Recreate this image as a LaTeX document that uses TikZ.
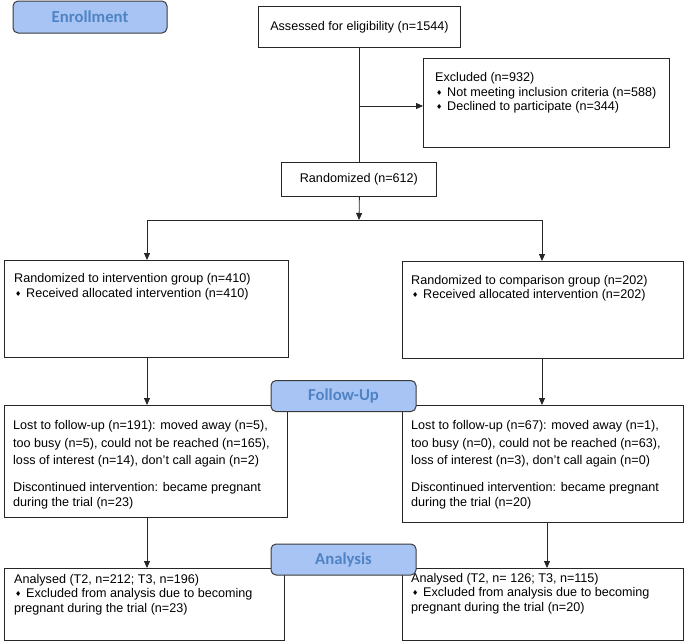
\documentclass[tikz,border=0pt]{standalone}
\usepackage{fontspec}
\setmainfont{Liberation Sans}
\newfontfamily\hdfont{Carlito}
\newfontfamily\symf{DejaVu Sans}
\usetikzlibrary{arrows.meta}
\definecolor{hdfill}{HTML}{A7C4F4}
\definecolor{hdtext}{HTML}{5083C4}
\definecolor{hdborder}{HTML}{3A3A3A}
\newcommand\bul{\makebox[12pt][l]{\hspace{1pt}\raisebox{0.6pt}{\symf\fontsize{7}{7}\selectfont ♦}}}
\newcommand\tb[1]{\parbox[t]{300pt}{#1}}
\begin{document}
\begin{tikzpicture}[x=1pt,y=-1pt,
  box/.style={draw=black!85, line width=0.8pt, rectangle, inner sep=0pt, anchor=north west,
    font=\fontsize{12.6}{14.5}\selectfont},
  txt/.style={inner sep=0pt, anchor=base west, font=\fontsize{12.6}{14.5}\selectfont},
  hd/.style={draw=hdborder, fill=hdfill, rounded corners=5pt, line width=1pt, inner sep=0pt,
    minimum width=145pt, minimum height=31pt,
    font=\hdfont\bfseries\fontsize{16.7}{18}\selectfont, text=hdtext},
  arr/.style={-{Triangle[length=7pt,width=6pt]}, line width=0.8pt, draw=black!85},
  ln/.style={line width=0.8pt, draw=black!85}]
\useasboundingbox (0,0) rectangle (685,643);

% boxes
\node[box, minimum width=202pt, minimum height=41pt] (assess) at (258,6) {Assessed for eligibility (n=1544)};
\node[box, minimum width=246pt, minimum height=89pt] (excl) at (423,58) {};
\node[txt] (exclt) at (435,81.5) {\tb{Excluded (n=932)\\
\bul Not meeting inclusion criteria (n=588)\\
\bul Declined to participate (n=344)}};
\node[box, minimum width=155pt, minimum height=34pt] (rand) at (281,162) {Randomized (n=612)};

\node[box, minimum width=284pt, minimum height=97pt] (lrand) at (4,260) {};
\node[txt] (lrandt) at (14,282.5) {\tb{Randomized to intervention group (n=410)\\
\bul Received allocated intervention (n=410)}};
\node[box, minimum width=281pt, minimum height=97pt] (rrand) at (402,261) {};
\node[txt] (rrandt) at (411,284) {\tb{Randomized to comparison group (n=202)\\
\bul Received allocated intervention (n=202)}};

\node[box, minimum width=283pt, minimum height=112pt] (lfu) at (4,405) {};
\node[txt] (lfut) at (13,429.5) {\tb{Lost to follow-up (n=191): moved away (n=5),\\[3pt]
too busy (n=5), could not be reached (n=165),\\[3pt]
loss of interest (n=14), don't call again (n=2)\\[12.5pt]
Discontinued intervention: became pregnant\\
during the trial (n=23)}};
\node[box, minimum width=281pt, minimum height=117pt] (rfu) at (402,405) {};
\node[txt] (rfut) at (411,429.5) {\tb{Lost to follow-up (n=67): moved away (n=1),\\[3pt]
too busy (n=0), could not be reached (n=63),\\[3pt]
loss of interest (n=3), don't call again (n=0)\\[12.5pt]
Discontinued intervention: became pregnant\\
during the trial (n=20)}};

\node[box, minimum width=280pt, minimum height=72pt] (lan) at (4,568) {};
\node[txt] (lant) at (14,583) {\tb{Analysed (T2, n=212; T3, n=196)\\
\bul Excluded from analysis due to becoming\\
pregnant during the trial (n=23)}};
\node[box, minimum width=281pt, minimum height=72pt] (ran) at (402,568) {};
\node[txt] (rant) at (411,582) {\tb{Analysed (T2, n= 126; T3, n=115)\\
\bul Excluded from analysis due to becoming\\
pregnant during the trial (n=20)}};

% connectors
\coordinate (j1) at (359,106);
\coordinate (split) at (359,220);
\coordinate (sl) at (147,220);
\coordinate (sr) at (542,220);
\coordinate (fr) at (547,522);
\draw[ln] (assess.south) -- (assess.south |- rand.north);
\draw[arr] (j1) -- (j1 -| excl.west);
\draw[arr] (assess.south |- rand.south) -- (split);
\draw[ln] (sl) -- (sr);
\draw[arr] (sl) -- (sl |- lrand.north);
\draw[arr] (sr) -- (sr |- rrand.north);
\draw[arr] (sl |- lrand.south) -- (sl |- lfu.north);
\draw[arr] (sr |- rrand.south) -- (sr |- rfu.north);
\draw[arr] (sl |- lfu.south) -- (sl |- lan.north);
\draw[arr] (fr) -- (fr |- ran.north);

% headers
\node[hd, minimum width=154pt, minimum height=32pt] (enr) at (90,17) {Enrollment};
\node[hd] (fup) at (343.5,396) {Follow-Up};
\node[hd] (ana) at (343.5,559.5) {Analysis};
\end{tikzpicture}
\end{document}
